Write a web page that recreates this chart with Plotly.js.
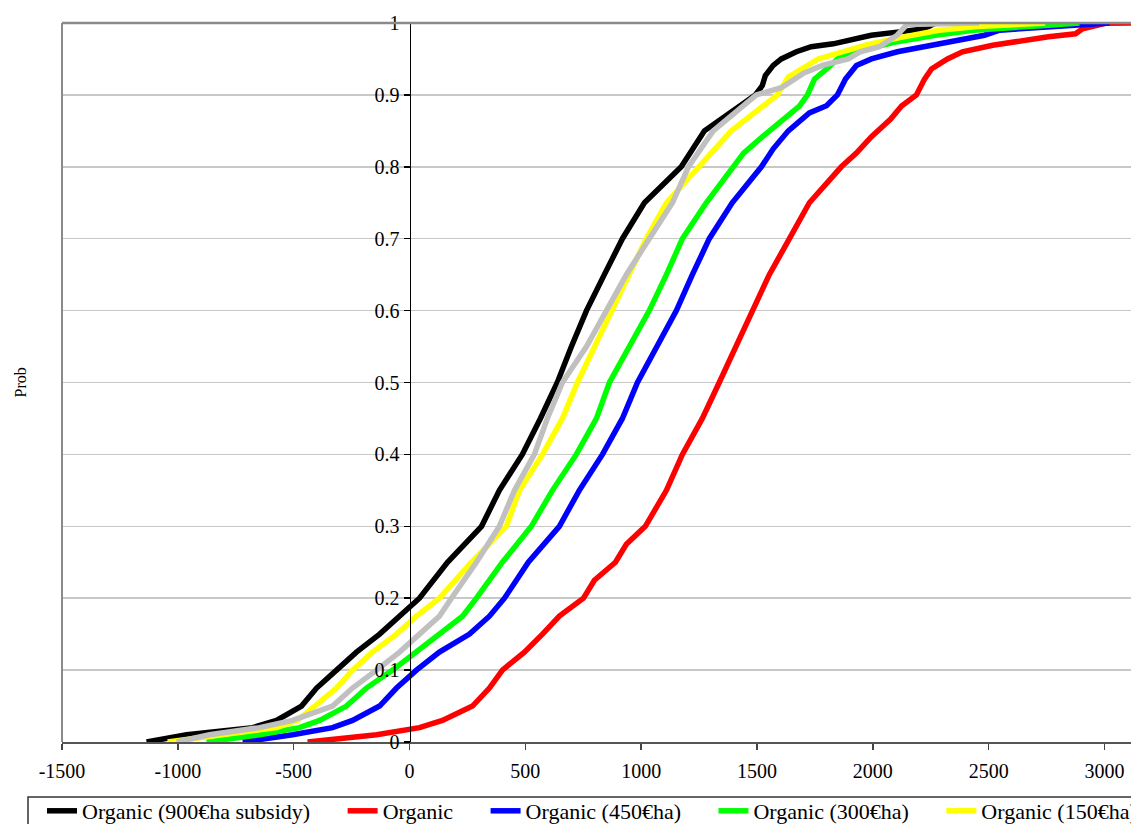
<!DOCTYPE html>
<html><head><meta charset="utf-8">
<script src="https://cdn.plot.ly/plotly-3.0.1.min.js"></script>
<style>html,body{margin:0;padding:0;overflow:hidden;width:1131px;height:824px;background:#fff}#chart{width:1700px;height:860px}</style>
</head><body><div id="chart"></div><script>
// Series names (legend order)
const seriesNames = ['Organic (900€ha subsidy)', 'Organic', 'Organic (450€ha)', 'Organic (300€ha)', 'Organic (150€ha)', 'Conventional'];
const seriesColors = ['#000000', '#FF0000', '#0000FF', '#00FF00', '#FFFF00', '#C0C0C0'];

// Cumulative probability levels and values (€/ha)
const probBlack = [0,0.01,0.02,0.03,0.05,0.075,0.1,0.125,0.15,0.175,0.2,0.25,0.3,0.35,0.4,0.45,0.5,0.55,0.6,0.65,0.7,0.75,0.8,0.85,0.9,0.913,0.927,0.941,0.95,0.96,0.967,0.971,0.978,0.983,0.988,0.992,1];
const valBlack  = [-1135,-962,-677,-574,-466,-401,-315,-229,-129,-43,43,164,311,388,487,565,638,699,764,841,919,1014,1173,1273,1493,1523,1536,1570,1605,1670,1734,1829,1928,1993,2123,2222,2270];

const probRed = [0,0.01,0.02,0.03,0.05,0.075,0.1,0.125,0.15,0.175,0.2,0.225,0.25,0.275,0.3,0.35,0.4,0.45,0.5,0.55,0.6,0.65,0.7,0.75,0.8,0.819,0.842,0.866,0.8845,0.9,0.922,0.936,0.95,0.96,0.969,0.974,0.981,0.985,0.992,0.9995,1,1];
const valRed  = [-440,-142,43,142,272,345,401,496,574,647,751,798,889,936,1018,1109,1178,1264,1337,1411,1481,1553,1640,1726,1864,1929,1994,2076,2124,2188,2223,2253,2322,2387,2517,2611,2758,2875,2905,3004,3069,3130];

const probBlue = [0,0.01,0.02,0.03,0.05,0.075,0.1,0.125,0.15,0.175,0.2,0.25,0.3,0.35,0.4,0.45,0.5,0.55,0.6,0.65,0.7,0.75,0.8,0.825,0.85,0.875,0.885,0.9,0.922,0.941,0.95,0.96,0.967,0.974,0.983,0.99,0.997,1];
const valBlue  = [-720,-505,-332,-246,-129,-56,30,129,259,345,410,513,647,733,833,919,984,1066,1152,1221,1294,1393,1519,1570,1635,1726,1800,1847,1882,1929,1994,2106,2222,2352,2482,2547,2892,3022];

const probGreen = [0,0.01,0.02,0.03,0.05,0.075,0.1,0.125,0.15,0.175,0.2,0.25,0.3,0.35,0.4,0.45,0.5,0.55,0.6,0.65,0.7,0.75,0.8,0.819,0.842,0.866,0.8845,0.9,0.922,0.936,0.955,0.964,0.974,0.983,0.99,0.997,1];
const valGreen  = [-876,-647,-475,-388,-272,-186,-73,30,129,229,289,401,526,617,720,807,863,949,1035,1109,1178,1281,1394,1442,1524,1619,1683,1718,1748,1800,1865,1977,2106,2270,2434,2758,2892];

const probYellow = [0,0.01,0.02,0.03,0.05,0.075,0.1,0.125,0.15,0.175,0.2,0.25,0.3,0.35,0.4,0.45,0.5,0.55,0.6,0.65,0.7,0.75,0.8,0.85,0.9,0.925,0.95,0.96,0.97,0.98,0.99,0.995,1];
const valYellow  = [-1044,-820,-574,-483,-410,-315,-246,-160,-56,30,129,267,418,475,574,660,725,798,871,949,1022,1109,1251,1389,1588,1635,1764,1864,1976,2122,2286,2450,2744];

const probGray = [0,0.01,0.02,0.03,0.05,0.075,0.1,0.125,0.15,0.175,0.2,0.25,0.3,0.35,0.4,0.45,0.5,0.55,0.6,0.65,0.7,0.75,0.8,0.85,0.9,0.91,0.93,0.941,0.95,0.96,0.967,0.983,0.998,1];
const valGray  = [-1005,-863,-647,-505,-332,-246,-142,-43,43,129,181,289,388,453,539,595,660,764,850,936,1035,1135,1204,1311,1497,1605,1700,1782,1894,1946,2028,2105,2148,2459];

// Tick labels
const xTickVals = [-1500,-1000,-500,0,500,1000,1500,2000,2500,3000];
const xTickText = ['-1500','-1000','-500','0','500','1000','1500','2000','2500','3000'];
const yTickVals = [0,0.1,0.2,0.3,0.4,0.5,0.6,0.7,0.8,0.9,1];
const yTickText = ['0','0.1','0.2','0.3','0.4','0.5','0.6','0.7','0.8','0.9','1'];
const yTitle = 'Prob';

const seriesX = [valBlack, valRed, valBlue, valGreen, valYellow, valGray];
const seriesY = [probBlack, probRed, probBlue, probGreen, probYellow, probGray];

const W = 1700, H = 860, ML = 62, MT = 23, MB = 118;
const plotW = W - ML, plotH = H - MT - MB;
const pxPerUnit = 695 / 3000;
const xMin = -1500, xMax = xMin + plotW / pxPerUnit;
const FONT = 'Liberation Serif, Times New Roman, serif';

const traces = seriesNames.map((n, i) => ({
  type: 'scatter', mode: 'lines', name: n + '\u00A0\u00A0\u00A0\u00A0\u00A0',
  x: seriesX[i], y: seriesY[i],
  line: {color: seriesColors[i], width: 5.5}
}));

const px2fx = px => (px - ML) / plotW;
const py2fy = py => (742 - py) / plotH;

const layout = {
  width: W, height: H,
  margin: {l: ML, r: 0, t: MT, b: MB, autoexpand: false},
  paper_bgcolor: '#fff', plot_bgcolor: '#fff',
  font: {family: FONT, size: 20, color: '#000'},
  showlegend: true,
  xaxis: {
    range: [xMin, xMax], tickmode: 'array', tickvals: xTickVals, ticktext: xTickText,
    ticks: 'outside', ticklen: 6, tickwidth: 1.5, tickcolor: '#444',
    showline: true, linecolor: '#555', linewidth: 2,
    showgrid: false, zeroline: false, ticklabelstandoff: 4,
    tickfont: {family: FONT, size: 20, color: '#000'}
  },
  yaxis: {
    range: [0, 1], anchor: 'free', position: (0 - xMin) / (xMax - xMin),
    tickmode: 'array', tickvals: yTickVals, ticktext: yTickText,
    ticks: 'outside', ticklen: 6, tickwidth: 1.5, tickcolor: '#000',
    showline: true, linecolor: '#000', linewidth: 1.5,
    showgrid: true, gridcolor: '#c8c8c8', gridwidth: 1.5, zeroline: false,
    tickfont: {family: FONT, size: 20, color: '#000'}
  },
  shapes: [
    {type: 'line', xref: 'paper', yref: 'paper', x0: 0, x1: 1, y0: 1, y1: 1, line: {color: '#8a8a8a', width: 2.5}, layer: 'above'},
    {type: 'line', xref: 'paper', yref: 'paper', x0: 0, x1: 0, y0: 0, y1: 1, line: {color: '#8a8a8a', width: 2}, layer: 'above'},
    {type: 'rect', xref: 'paper', yref: 'paper', x0: px2fx(28), x1: 1, y0: py2fy(797), y1: py2fy(840), line: {color: '#333', width: 1.5}, fillcolor: 'rgba(0,0,0,0)', layer: 'above'}
  ],
  annotations: [{
    text: yTitle, xref: 'paper', yref: 'paper', x: -(ML - 20) / plotW, y: 0.5,
    xanchor: 'center', yanchor: 'middle', textangle: -90, showarrow: false,
    font: {family: FONT, size: 16, color: '#000'}
  }],
  legend: {
    orientation: 'h', x: px2fx(21), xanchor: 'left', y: py2fy(790), yanchor: 'top',
    borderwidth: 0, bgcolor: 'rgba(0,0,0,0)', traceorder: 'normal',
    font: {family: FONT, size: 22, color: '#000'},
    title: {text: '\u00A0\u00A0', side: 'left', font: {family: FONT, size: 22}}
  }
};

Plotly.newPlot('chart', traces, layout, {displayModeBar: false, staticPlot: true});
</script></body></html>
